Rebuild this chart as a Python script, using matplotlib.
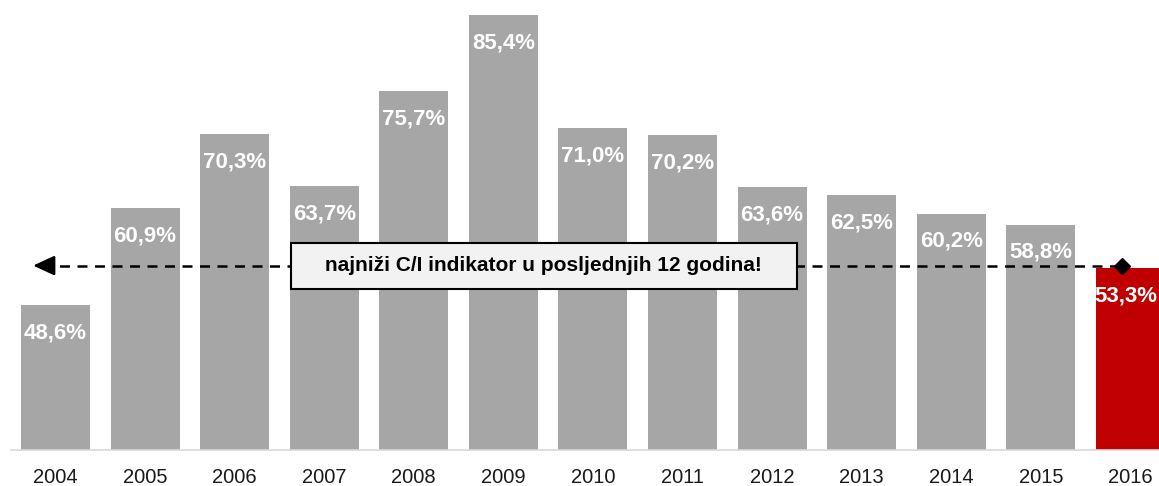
import matplotlib.pyplot as plt
from matplotlib.patches import Rectangle

plt.rcParams['font.family'] = ['Liberation Sans', 'DejaVu Sans']

years = ['2004', '2005', '2006', '2007', '2008', '2009', '2010',
         '2011', '2012', '2013', '2014', '2015', '2016']
ci_ratio = [48.6, 60.9, 70.3, 63.7, 75.7, 85.4, 71.0,
            70.2, 63.6, 62.5, 60.2, 58.8, 53.3]
note = 'najniži C/I indikator u posljednjih 12 godina!'

gray = '#a6a6a6'
red = '#c00000'


def main():
    fig = plt.figure(figsize=(11.59, 4.86), dpi=100)
    ax = fig.add_axes([10.7 / 1159, 36 / 486, 1 - 10.7 / 1159, 450 / 486])

    x = list(range(len(years)))
    cols = [gray] * (len(years) - 1) + [red]
    ax.bar(x, ci_ratio, width=0.77, color=cols, zorder=2)

    for xi, v in zip(x, ci_ratio):
        # last bar sits against the right edge, nudge its label inwards
        dx = -3.5 if xi == x[-1] else 0
        ax.annotate(f'{v:.1f}%'.replace('.', ','), (xi, v), xytext=(dx, -20),
                    textcoords='offset points', ha='center', va='center',
                    color='white', fontsize=16, fontweight='bold', zorder=4)

    # dashed reference line at the 2016 level, solid arrow head on the left
    y_line = 53.6
    x_tip, x_end = -0.25, 11.91
    ax.plot([x_tip + 0.1, x_end], [y_line, y_line], color='black', lw=1.8,
            linestyle=(0, (4, 3)), zorder=3)
    ax.annotate('', xy=(x_tip, y_line), xytext=(x_tip + 0.12, y_line),
                arrowprops=dict(arrowstyle='-|>,head_length=1.3,head_width=0.6',
                                color='black', lw=1.8, shrinkA=0, shrinkB=0),
                zorder=3)
    ax.plot([x_end], [y_line], marker='D', color='black', markersize=8, zorder=5)

    # note box
    bx, bw, bh = 5.45, 5.65, 5.84
    ax.add_patch(Rectangle((bx - bw / 2, y_line - bh / 2), bw, bh,
                           fc='#f2f2f2', ec='black', lw=1.5, zorder=6))
    ax.text(bx, y_line, note, ha='center', va='center', fontsize=15,
            fontweight='bold', zorder=7)

    ax.set_xlim(-0.5, 12.32)
    ax.set_ylim(30.2, 87.3)
    ax.set_xticks(x)
    ax.set_xticklabels(years, fontsize=14.5, color='#1a1a1a')
    ax.tick_params(axis='x', length=0, pad=13)
    ax.set_yticks([])
    for s in ['top', 'right', 'left']:
        ax.spines[s].set_visible(False)
    ax.spines['bottom'].set_color('#d9d9d9')
    ax.spines['bottom'].set_linewidth(1.2)

    fig.savefig('out.png', dpi=100)
    plt.close(fig)


if __name__ == '__main__':
    main()
